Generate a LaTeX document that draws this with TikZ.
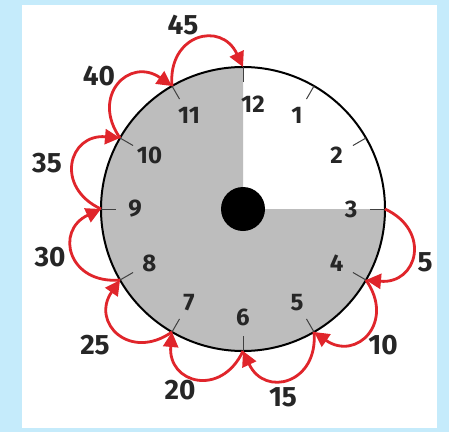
\documentclass[tikz,border=0pt]{standalone}
\usepackage{fontspec}
\setmainfont{Fira Sans}
\usetikzlibrary{arrows.meta}
\definecolor{bgblue}{HTML}{C5EBFB}
\definecolor{facegray}{HTML}{BDBDBD}
\definecolor{loopred}{HTML}{E0252B}
\tikzset{
  hournum/.style={font=\fontsize{24}{24}\selectfont\bfseries, text=black!85, inner sep=0pt},
  minlabel/.style={font=\fontsize{28}{28}\selectfont\bfseries, text=black!85, inner sep=0pt},
  tickline/.style={draw=black!75, line width=1pt},
  hop/.style={draw=loopred, line width=2.8pt, -{Triangle[length=15pt,width=15pt]}, looseness=1.8},
}
\begin{document}
\begin{tikzpicture}[x=1pt,y=1pt]
\useasboundingbox (-243,-223) rectangle (206,209);
\fill[bgblue] (-243,-223) rectangle (206,209);
\fill[white] (-221,-219) rectangle (194,204);
% face
\fill[facegray] (0,0) -- (0,142) arc[start angle=90,end angle=360,radius=142] -- cycle;
\draw[line width=2pt] (0,0) circle[radius=142];
\fill[black] (0,0) circle[radius=22];
% hour points, ticks
\foreach \k in {1,...,12}{
  \coordinate (p\k) at ({90-30*\k}:142);
  \coordinate (t\k) at ({90-30*\k}:127);
  \draw[tickline] (t\k) -- (p\k);
}
% hour numbers
\foreach \k in {1,...,11}{
  \node[hournum] (n\k) at ({90-30*\k}:108) {\k};
}
\node[hournum] (n12) at (10,105) {12};
% loops
\foreach \k [evaluate=\k as \nk using int(\k+1), evaluate=\k as \th using 90-30*\k] in {3,...,11}{
  \draw[hop] (p\k) to[out={\th-25}, in={\th-5}] (p\nk);
}
% minute labels
\node[minlabel] (m5)  at (182,-53) {5};
\node[minlabel] (m10) at (140,-136) {10};
\node[minlabel] (m15) at (40,-188) {15};
\node[minlabel] (m20) at (-63,-181) {20};
\node[minlabel] (m25) at (-148,-136) {25};
\node[minlabel] (m30) at (-193,-48) {30};
\node[minlabel] (m35) at (-196,46) {35};
\node[minlabel] (m40) at (-144,133) {40};
\node[minlabel] (m45) at (-60,184) {45};
\end{tikzpicture}
\end{document}
